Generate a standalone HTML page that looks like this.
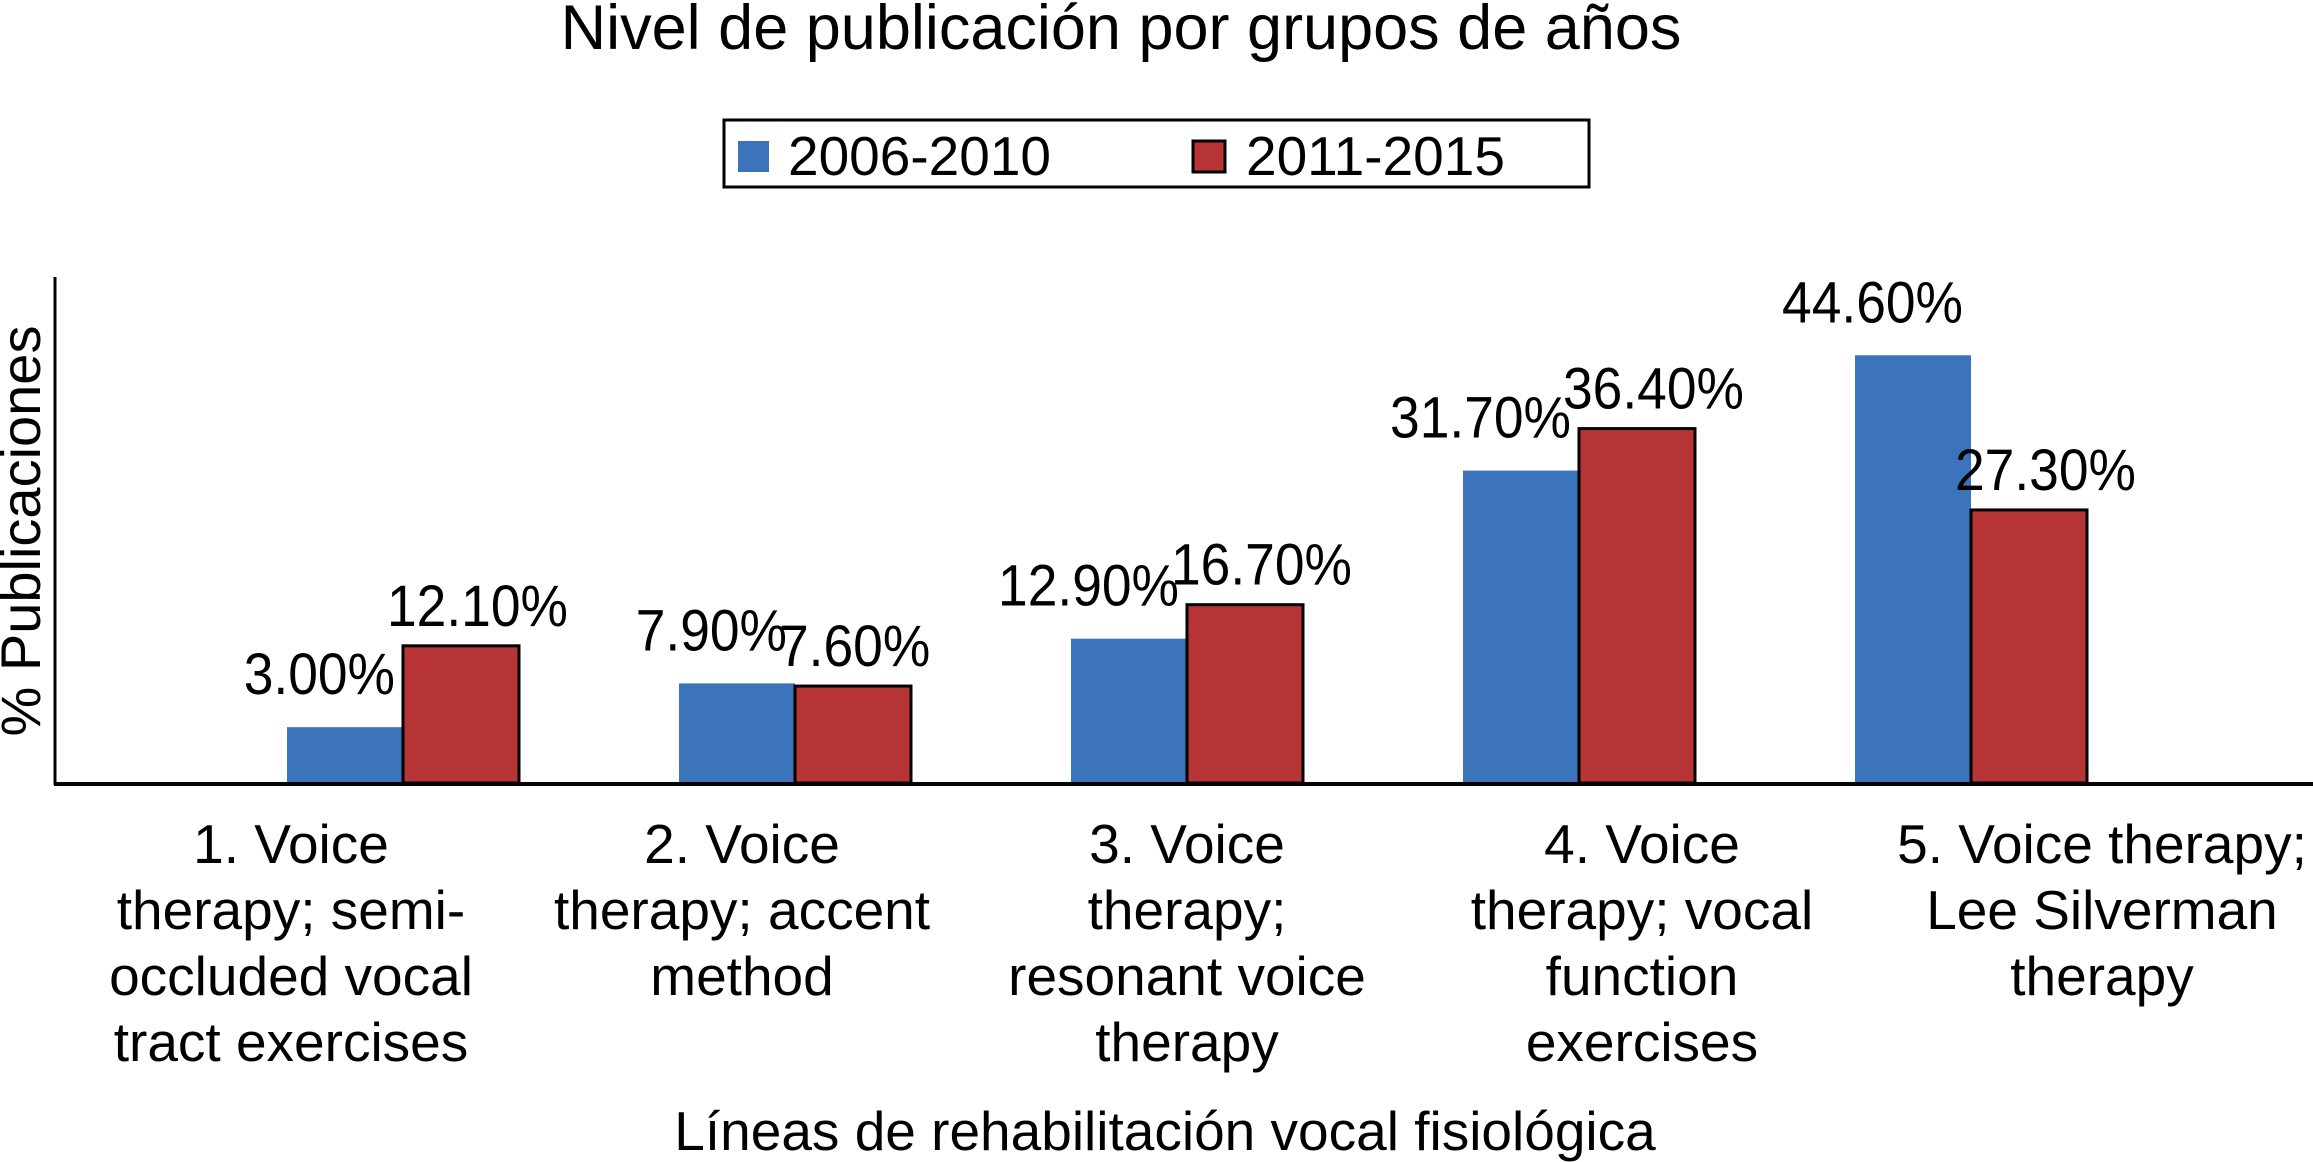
<!DOCTYPE html>
<html><head><meta charset="utf-8"><style>
html,body{margin:0;padding:0;background:#fff;}
svg{display:block;font-family:"Liberation Sans",Arial,sans-serif;}
</style></head><body>
<svg id="chart" width="2313" height="1162" viewBox="0 0 2313 1162">
<text x="1121" y="49" font-size="63" text-anchor="middle">Nivel de publicación por grupos de años</text>
<g>
<rect x="724" y="120" width="865" height="67" fill="#fff" stroke="#000" stroke-width="3"/>
<rect x="738" y="141" width="31" height="31" fill="#3b74bb"/>
<text x="788" y="175" font-size="55">2006-2010</text>
<rect x="1193" y="141" width="32" height="31" fill="#b83535" stroke="#000" stroke-width="3"/>
<text x="1246" y="175" font-size="55">2011-2015</text>
</g>
<text transform="translate(40,531) rotate(-90)" font-size="56" text-anchor="middle">% Publicaciones</text>
<text x="1165" y="1150" font-size="55" text-anchor="middle">Líneas de rehabilitación vocal fisiológica</text>
<g id="bars"></g>
<g id="labels"></g>
<line x1="55" y1="277" x2="55" y2="785" stroke="#000" stroke-width="3"/>
<line x1="54" y1="784" x2="2313" y2="784" stroke="#000" stroke-width="4"/>
</svg>
<script>
const categories = [
  ["1. Voice","therapy; semi-","occluded vocal","tract exercises"],
  ["2. Voice","therapy; accent","method"],
  ["3. Voice","therapy;","resonant voice","therapy"],
  ["4. Voice","therapy; vocal","function","exercises"],
  ["5. Voice therapy;","Lee Silverman","therapy"]
];
const series2006 = [3.0, 7.9, 12.9, 31.7, 44.6];
const series2011 = [12.1, 7.6, 16.7, 36.4, 27.3];
const labels2006 = ["3.00%","7.90%","12.90%","31.70%","44.60%"];
const labels2011 = ["12.10%","7.60%","16.70%","36.40%","27.30%"];

const NS = "http://www.w3.org/2000/svg";
const baseY = 783, zeroY = 754, pxPerUnit = 8.94;
function yScale(v){ return zeroY - v * pxPerUnit; }
function xCenter(i){ return 403 + i * 392; }
const barW = 116;
const catLabelX = [291, 742, 1187, 1642, 2102];
const bars = document.getElementById('bars');
const labs = document.getElementById('labels');
function mk(tag, attrs){ const e = document.createElementNS(NS, tag); for (const k in attrs) e.setAttribute(k, attrs[k]); return e; }
function valueText(x, y, anchor, str){
  const t = mk('text', {transform: 'translate(' + x + ',' + y + ') scale(0.92,1)', 'font-size': 58, 'text-anchor': anchor});
  t.textContent = str;
  return t;
}

categories.forEach((cat, i) => {
  const c = xCenter(i);
  const y1 = yScale(series2006[i]);
  const b1 = mk('rect', {x: c - barW, y: y1, width: barW, height: baseY - y1, fill: '#3b74bb'});
  
  
  bars.appendChild(b1);
  const y2 = yScale(series2011[i]);
  const b2 = mk('rect', {x: c, y: y2, width: barW, height: baseY - y2, fill: '#b83535', stroke: '#000', 'stroke-width': 3});
  
  
  bars.appendChild(b2);

  const t1 = valueText(c - 8, y1 - 33, 'end', labels2006[i]);
  
  
  labs.appendChild(t1);
  const t2 = valueText(c - 16, y2 - 20, 'start', labels2011[i]);
  
  
  labs.appendChild(t2);

  const ct = mk('text', {x: catLabelX[i], y: 863, 'font-size': 55, 'text-anchor': 'middle'});
  
  
  cat.forEach((line, j) => {
    const ts = mk('tspan', {x: catLabelX[i], dy: j === 0 ? 0 : 66});
    ts.textContent = line;
    ct.appendChild(ts);
  });
  labs.appendChild(ct);
});
</script>
</body></html>
